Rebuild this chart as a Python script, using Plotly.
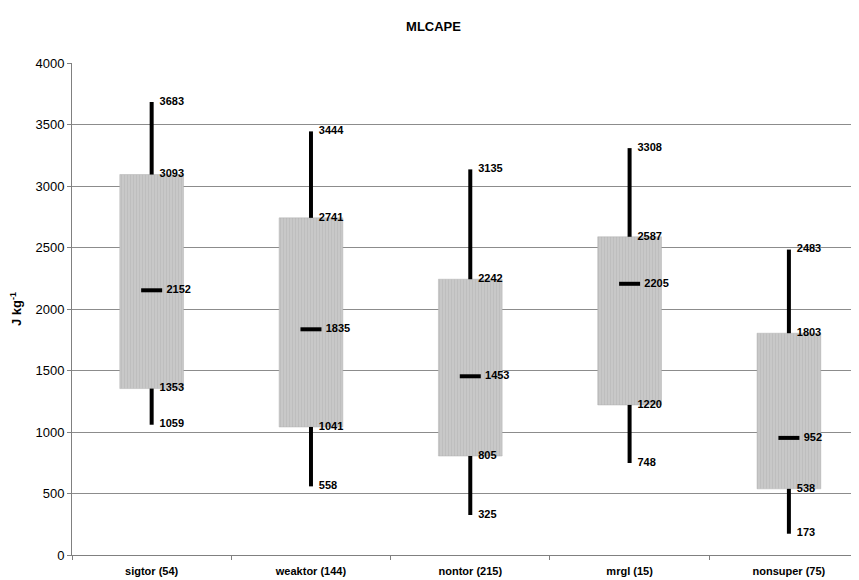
import plotly.graph_objects as go

categories = ["sigtor (54)", "weaktor (144)", "nontor (215)", "mrgl (15)", "nonsuper (75)"]
whisker_low = [1059, 558, 325, 748, 173]
box_low = [1353, 1041, 805, 1220, 538]
median = [2152, 1835, 1453, 2205, 952]
box_high = [3093, 2741, 2242, 2587, 1803]
whisker_high = [3683, 3444, 3135, 3308, 2483]

FONT = "Liberation Sans, Arial, sans-serif"

fig = go.Figure()

# whiskers (drawn as two segments outside the box)
wx, wy = [], []
for c, lo, q1, q3, hi in zip(categories, whisker_low, box_low, box_high, whisker_high):
    wx += [c, c, None, c, c, None]
    wy += [lo, q1, None, q3, hi, None]
fig.add_trace(go.Scatter(x=wx, y=wy, mode="lines", line=dict(color="black", width=4),
                         hoverinfo="skip", showlegend=False))

# boxes
fig.add_trace(go.Bar(
    x=categories,
    y=[h - l for h, l in zip(box_high, box_low)],
    base=box_low,
    width=0.4,
    marker=dict(color="#c4c4c4",
                line=dict(color="#b0b0b0", width=0.5),
                pattern=dict(shape="|", fgcolor="#a8a8a8", bgcolor="#c8c8c8", size=3, solidity=0.2)),
    showlegend=False,
))

# medians
fig.add_trace(go.Scatter(
    x=categories, y=median, mode="markers",
    marker=dict(symbol="line-ew", size=15, line=dict(color="black", width=4)),
    showlegend=False,
))
fig.add_trace(go.Scatter(
    x=categories, y=median, mode="markers+text",
    marker=dict(size=22, color="rgba(0,0,0,0)"),
    text=[str(v) for v in median], textposition="middle right",
    textfont=dict(family=FONT, size=11, color="black", weight="bold"),
    showlegend=False, hoverinfo="skip",
))

# value labels for whiskers and box edges
for arr in (whisker_low, box_low, box_high, whisker_high):
    fig.add_trace(go.Scatter(
        x=categories, y=arr, mode="markers+text",
        marker=dict(size=11, color="rgba(0,0,0,0)"),
        text=[str(v) for v in arr], textposition="middle right",
        textfont=dict(family=FONT, size=11, color="black", weight="bold"),
        showlegend=False, hoverinfo="skip",
    ))

fig.update_layout(
    width=851, height=572,
    margin=dict(l=64, r=0, t=55, b=25),
    paper_bgcolor="white", plot_bgcolor="white",
    title=dict(text="<b>MLCAPE</b>", x=0.5, xanchor="center", y=0.967, yanchor="middle",
               font=dict(family=FONT, size=13, color="black")),
    font=dict(family=FONT, color="black"),
    bargap=0.6,
)
fig.update_xaxes(
    type="category", range=[-0.5, 4.44], showgrid=False, showline=True, linecolor="#808080", linewidth=1,
    ticks="outside", tickson="boundaries", ticklen=4, tickcolor="#808080",
    tickfont=dict(family=FONT, size=11, color="black", weight="bold"),
    ticklabelstandoff=6,
)
fig.update_yaxes(
    range=[0, 4000], dtick=500, showgrid=True, gridcolor="#8c8c8c", gridwidth=1,
    showline=True, linecolor="#808080", linewidth=1, ticks="outside", ticklen=4,
    tickcolor="#808080", tickfont=dict(family=FONT, size=13, color="black"),
    title=dict(text="<b>J kg<sup>-1</sup></b>", font=dict(family=FONT, size=13, color="black"), standoff=14),
    zeroline=False,
)

fig.write_html("out.html")
